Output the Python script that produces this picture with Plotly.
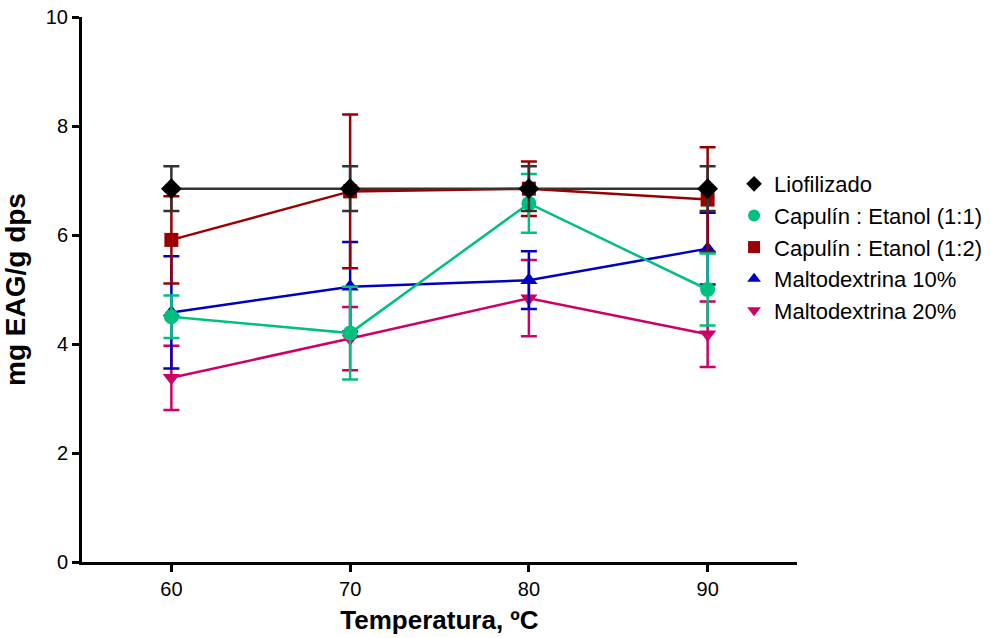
import plotly.graph_objects as go

temps = [60, 70, 80, 90]
names = ["Liofilizado", "Capulín : Etanol (1:1)", "Capulín : Etanol (1:2)",
         "Maltodextrina 10%", "Maltodextrina 20%"]
liof = [6.85, 6.85, 6.85, 6.85]
liof_sd = [0.41, 0.41, 0.41, 0.41]
cap11 = [4.50, 4.20, 6.58, 5.00]
cap11_sd = [0.39, 0.85, 0.54, 0.66]
cap12 = [5.91, 6.80, 6.85, 6.65]
cap12_sd = [0.80, 1.41, 0.50, 0.96]
malto10 = [4.58, 5.05, 5.17, 5.75]
malto10_sd = [1.03, 0.82, 0.53, 0.66]
malto20 = [3.38, 4.10, 4.84, 4.18]
malto20_sd = [0.59, 0.58, 0.70, 0.60]

series = [
    (names[4], malto20, malto20_sd, "#CC0066", "triangle-down", 15),
    (names[3], malto10, malto10_sd, "#0000C0", "triangle-up", 15),
    (names[2], cap12, cap12_sd, "#990000", "square", 14),
    (names[1], cap11, cap11_sd, "#00C080", "circle", 15),
    (names[0], liof, liof_sd, "#000000", "diamond", 16),
]

fig = go.Figure()
for name, vals, sd, color, sym, size in series:
    line_color = "#333333" if name == "Liofilizado" else color
    fig.add_trace(go.Scatter(
        x=temps, y=vals, name=name, mode="lines+markers", showlegend=False,
        line=dict(color=line_color, width=2.5),
        marker=dict(color=color, symbol=sym, size=size),
        error_y=dict(type="data", array=sd, visible=True,
                     color=line_color, thickness=2.5, width=8),
    ))
# legend entries: markers only
for name, vals, sd, color, sym, size in series:
    fig.add_trace(go.Scatter(
        x=[None], y=[None], name=name, mode="markers", showlegend=True,
        marker=dict(color=color, symbol=sym, size=size),
    ))

fig.update_layout(
    width=990, height=638,
    margin=dict(l=82, r=193, t=17, b=76, autoexpand=False),
    plot_bgcolor="white", paper_bgcolor="white",
    font=dict(family="Arial, Liberation Sans, sans-serif", color="black", size=20),
    showlegend=True,
    legend=dict(traceorder="reversed", x=0.912, y=0.732, xanchor="left", yanchor="top",
                font=dict(size=22), bgcolor="rgba(0,0,0,0)", itemsizing="constant",
                tracegroupgap=0),
    xaxis=dict(range=[55, 95], tickvals=[60, 70, 80, 90], showgrid=False, zeroline=False,
               showline=True, linecolor="black", linewidth=3,
               ticks="outside", ticklen=7, tickwidth=3, tickcolor="black",
               tickfont=dict(size=20),
               title=dict(text="<b>Temperatura, ºC</b>", font=dict(size=26), standoff=12)),
    yaxis=dict(range=[0, 10], tickvals=[0, 2, 4, 6, 8, 10], showgrid=False, zeroline=False,
               showline=True, linecolor="black", linewidth=3,
               ticks="outside", ticklen=7, tickwidth=3, tickcolor="black",
               tickfont=dict(size=20),
               title=dict(text="<b>mg EAG/g dps</b>", font=dict(size=28), standoff=12)),
)

fig.write_html("out.html")
